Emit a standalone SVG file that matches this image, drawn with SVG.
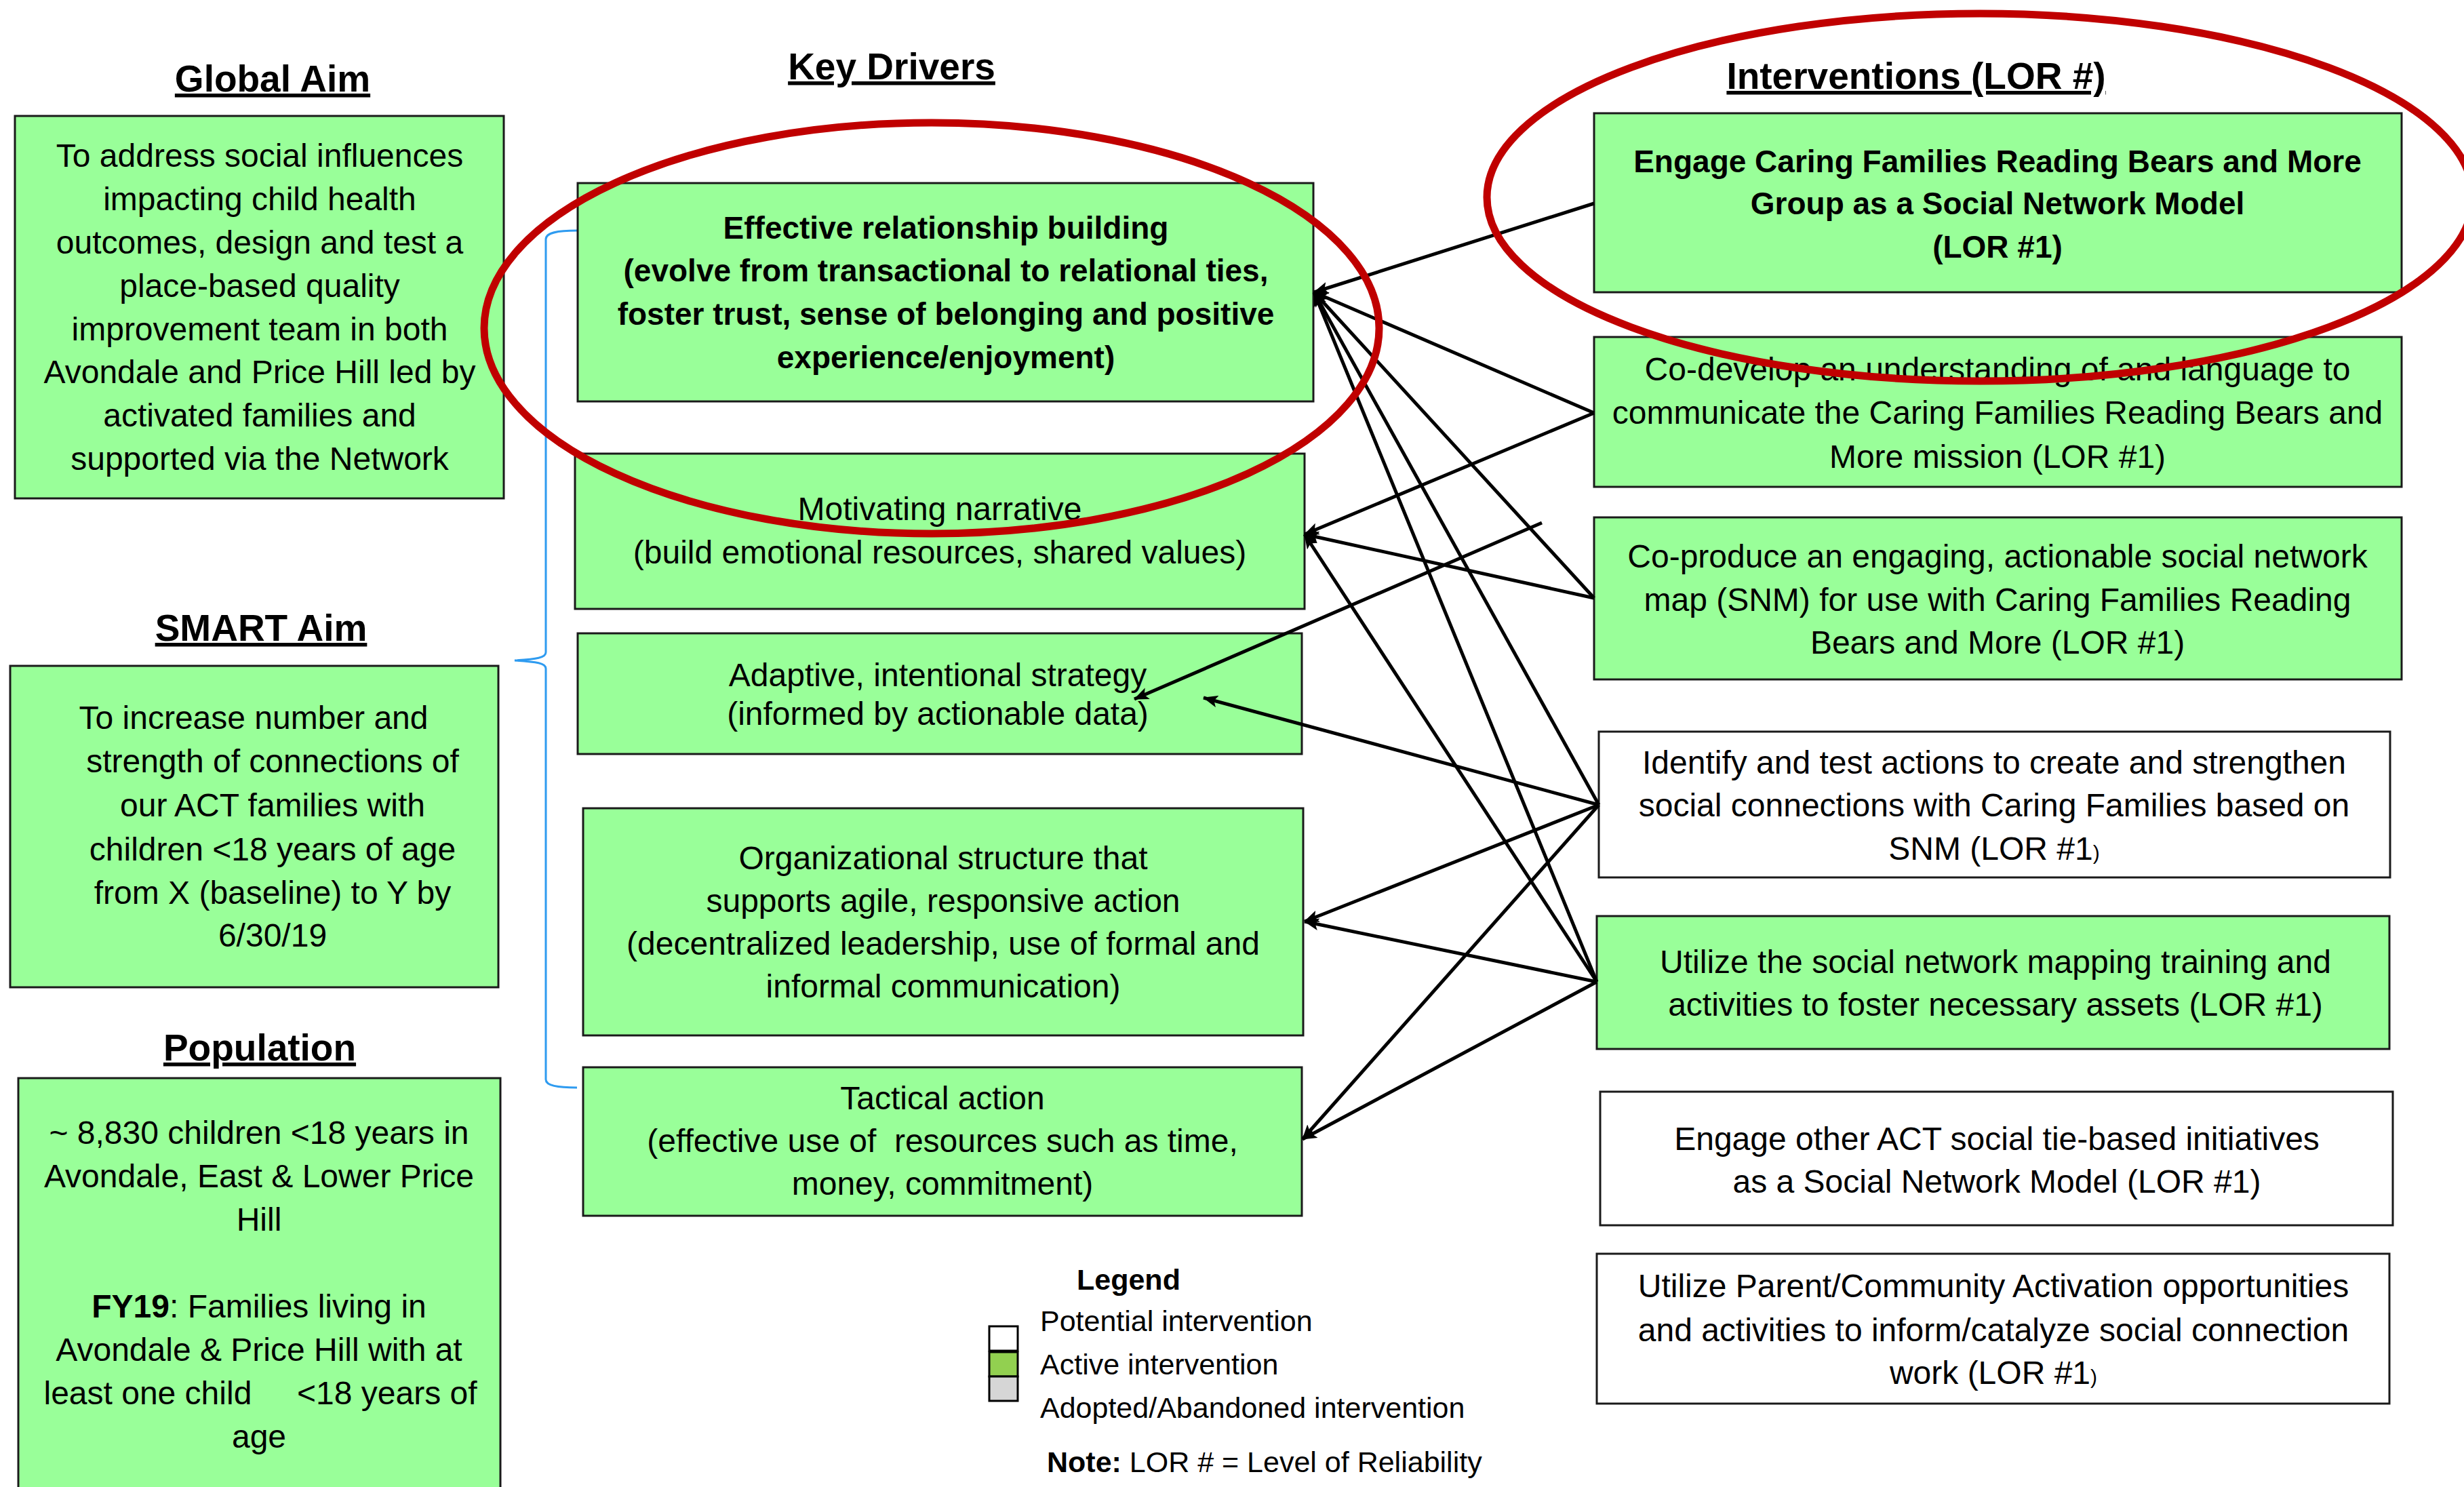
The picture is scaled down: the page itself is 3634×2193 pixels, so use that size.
<svg xmlns="http://www.w3.org/2000/svg" width="3634" height="2193" viewBox="0 0 3634 2193">
<style>
text{font-family:"Liberation Sans",Arial,sans-serif;fill:#000}
.t{font-size:48px;text-anchor:middle}
.b{font-size:46px;font-weight:bold;text-anchor:middle}
.h{font-size:55px;font-weight:bold;text-anchor:middle;text-decoration:underline}
.g{fill:#99FF99;stroke:#1a1a1a;stroke-width:3}
.w{fill:#fff;stroke:#1a1a1a;stroke-width:3}
.lg{font-size:43px}
.c{stroke:#000;stroke-width:5;fill:none;marker-end:url(#ah)}
.red{fill:none;stroke:#C00000;stroke-width:11}
</style>
<defs>
<marker id="ah" markerUnits="userSpaceOnUse" viewBox="0 0 22 18" refX="21" refY="9" markerWidth="22" markerHeight="18" orient="auto">
<path d="M0,0 L22,9 L0,18 L5,9 z" fill="#000"/>
</marker>
</defs>
<rect width="3634" height="2193" fill="#fff"/>

<g id="titles">
<text class="h" x="402" y="135">Global Aim</text>
<text class="h" x="385" y="945">SMART Aim</text>
<text class="h" x="383" y="1564">Population</text>
<text class="h" x="1315" y="117">Key Drivers</text>
<text class="h" x="2826" y="131">Interventions (LOR #)</text>
</g>

<g id="global-aim">
<rect class="g" x="22" y="171" width="721" height="564"/>
<text class="t" x="383" y="246">To address social influences</text>
<text class="t" x="383" y="310">impacting child health</text>
<text class="t" x="383" y="374">outcomes, design and test a</text>
<text class="t" x="383" y="438">place-based quality</text>
<text class="t" x="383" y="502">improvement team in both</text>
<text class="t" x="383" y="565">Avondale and Price Hill led by</text>
<text class="t" x="383" y="629">activated families and</text>
<text class="t" x="383" y="693">supported via the Network</text>
</g>

<g id="smart-aim">
<rect class="g" x="15" y="982" width="720" height="474"/>
<text class="t" x="374" y="1075">To increase number and</text>
<text class="t" x="402" y="1139">strength of connections of</text>
<text class="t" x="402" y="1204">our ACT families with</text>
<text class="t" x="402" y="1269">children &lt;18 years of age</text>
<text class="t" x="402" y="1333">from X (baseline) to Y by</text>
<text class="t" x="402" y="1396">6/30/19</text>
</g>

<g id="population">
<rect class="g" x="27" y="1590" width="711" height="620"/>
<text class="t" x="382" y="1687">~ 8,830 children &lt;18 years in</text>
<text class="t" x="382" y="1751">Avondale, East &amp; Lower Price</text>
<text class="t" x="382" y="1815">Hill</text>
<text class="t" x="382" y="1943"><tspan font-weight="bold">FY19</tspan>: Families living in</text>
<text class="t" x="382" y="2007">Avondale &amp; Price Hill with at</text>
<text class="t" x="384" y="2071" xml:space="preserve">least one child     &lt;18 years of</text>
<text class="t" x="382" y="2135">age</text>
</g>

<g id="bracket">
<path d="M851,340 C822,340 805,343 805,353 L805,962 C805,970 792,972 759,974 C792,976 805,978 805,986 L805,1592 C805,1601 822,1604 851,1604" fill="none" stroke="#2E9BF0" stroke-width="3"/>
</g>

<g id="driver-1">
<rect class="g" x="852" y="270" width="1085" height="322"/>
<text class="b" x="1395" y="352">Effective relationship building</text>
<text class="b" x="1395" y="415">(evolve from transactional to relational ties,</text>
<text class="b" x="1395" y="479">foster trust, sense of belonging and positive</text>
<text class="b" x="1395" y="543">experience/enjoyment)</text>
</g>
<g id="driver-2">
<rect class="g" x="848" y="669" width="1076" height="229"/>
<text class="t" x="1386" y="767">Motivating narrative</text>
<text class="t" x="1386" y="831">(build emotional resources, shared values)</text>
</g>
<g id="driver-3">
<rect class="g" x="852" y="934" width="1068" height="178"/>
<text class="t" x="1383" y="1012">Adaptive, intentional strategy</text>
<text class="t" x="1383" y="1069">(informed by actionable data)</text>
</g>
<g id="driver-4">
<rect class="g" x="860" y="1192" width="1062" height="335"/>
<text class="t" x="1391" y="1282">Organizational structure that</text>
<text class="t" x="1391" y="1345">supports agile, responsive action</text>
<text class="t" x="1391" y="1408">(decentralized leadership, use of formal and</text>
<text class="t" x="1391" y="1471">informal communication)</text>
</g>
<g id="driver-5">
<rect class="g" x="860" y="1574" width="1060" height="219"/>
<text class="t" x="1390" y="1636">Tactical action</text>
<text class="t" x="1390" y="1699" xml:space="preserve">(effective use of  resources such as time,</text>
<text class="t" x="1390" y="1762">money, commitment)</text>
</g>

<g id="intervention-1">
<rect class="g" x="2351" y="167" width="1191" height="264"/>
<text class="b" x="2946" y="254">Engage Caring Families Reading Bears and More</text>
<text class="b" x="2946" y="316">Group as a Social Network Model</text>
<text class="b" x="2946" y="380">(LOR #1)</text>
</g>
<g id="intervention-2">
<rect class="g" x="2351" y="497" width="1191" height="221"/>
<text class="t" x="2946" y="561">Co-develop an understanding of and language to</text>
<text class="t" x="2946" y="625">communicate the Caring Families Reading Bears and</text>
<text class="t" x="2946" y="690">More mission (LOR #1)</text>
</g>
<g id="intervention-3">
<rect class="g" x="2351" y="763" width="1191" height="239"/>
<text class="t" x="2946" y="837">Co-produce an engaging, actionable social network</text>
<text class="t" x="2946" y="901">map (SNM) for use with Caring Families Reading</text>
<text class="t" x="2946" y="964">Bears and More (LOR #1)</text>
</g>
<g id="intervention-4">
<rect class="w" x="2358" y="1079" width="1167" height="215"/>
<text class="t" x="2941" y="1141">Identify and test actions to create and strengthen</text>
<text class="t" x="2941" y="1204">social connections with Caring Families based on</text>
<text class="t" x="2941" y="1268">SNM (LOR #1<tspan font-size="30">)</tspan></text>
</g>
<g id="intervention-5">
<rect class="g" x="2355" y="1351" width="1169" height="196"/>
<text class="t" x="2943" y="1435">Utilize the social network mapping training and</text>
<text class="t" x="2943" y="1498">activities to foster necessary assets (LOR #1)</text>
</g>
<g id="intervention-6">
<rect class="w" x="2360" y="1610" width="1169" height="197"/>
<text class="t" x="2945" y="1696">Engage other ACT social tie-based initiatives</text>
<text class="t" x="2945" y="1759">as a Social Network Model (LOR #1)</text>
</g>
<g id="intervention-7">
<rect class="w" x="2355" y="1849" width="1169" height="221"/>
<text class="t" x="2940" y="1913">Utilize Parent/Community Activation opportunities</text>
<text class="t" x="2940" y="1978">and activities to inform/catalyze social connection</text>
<text class="t" x="2940" y="2041">work (LOR #1<tspan font-size="30">)</tspan></text>
</g>

<g id="connectors">
<path class="c" d="M2351,300 L1938,431"/>
<path class="c" d="M2351,609 L1938,431"/>
<path class="c" d="M2351,882 L1938,431"/>
<path class="c" d="M2358,1187 L1938,431"/>
<path class="c" d="M2355,1448 L1938,431"/>
<path class="c" d="M2351,609 L1924,788"/>
<path class="c" d="M2351,882 L1924,788"/>
<path class="c" d="M2355,1448 L1924,788"/>
<path class="c" d="M2274,771 L1673,1031"/>
<path class="c" d="M2358,1187 L1775,1029"/>
<path class="c" d="M2358,1187 L1924,1359"/>
<path class="c" d="M2355,1448 L1924,1359"/>
<path class="c" d="M2358,1187 L1921,1680"/>
<path class="c" d="M2355,1448 L1921,1680"/>
</g>

<g id="legend">
<text class="lg" x="1588" y="1902" font-weight="bold">Legend</text>
<rect x="1459" y="1956" width="42" height="36" fill="#fff" stroke="#000" stroke-width="3"/>
<rect x="1459" y="1994" width="42" height="36" fill="#92D050" stroke="#000" stroke-width="3"/>
<rect x="1459" y="2030" width="42" height="36" fill="#D6D6D6" stroke="#000" stroke-width="3"/>
<text class="lg" x="1534" y="1963">Potential intervention</text>
<text class="lg" x="1534" y="2027">Active intervention</text>
<text class="lg" x="1534" y="2091">Adopted/Abandoned intervention</text>
<text class="lg" x="1544" y="2171"><tspan font-weight="bold">Note:</tspan> LOR # = Level of Reliability</text>
</g>

<g id="highlights">
<ellipse class="red" cx="1374" cy="484" rx="660" ry="303"/>
<ellipse class="red" cx="2920" cy="291" rx="727" ry="271"/>
</g>
</svg>
